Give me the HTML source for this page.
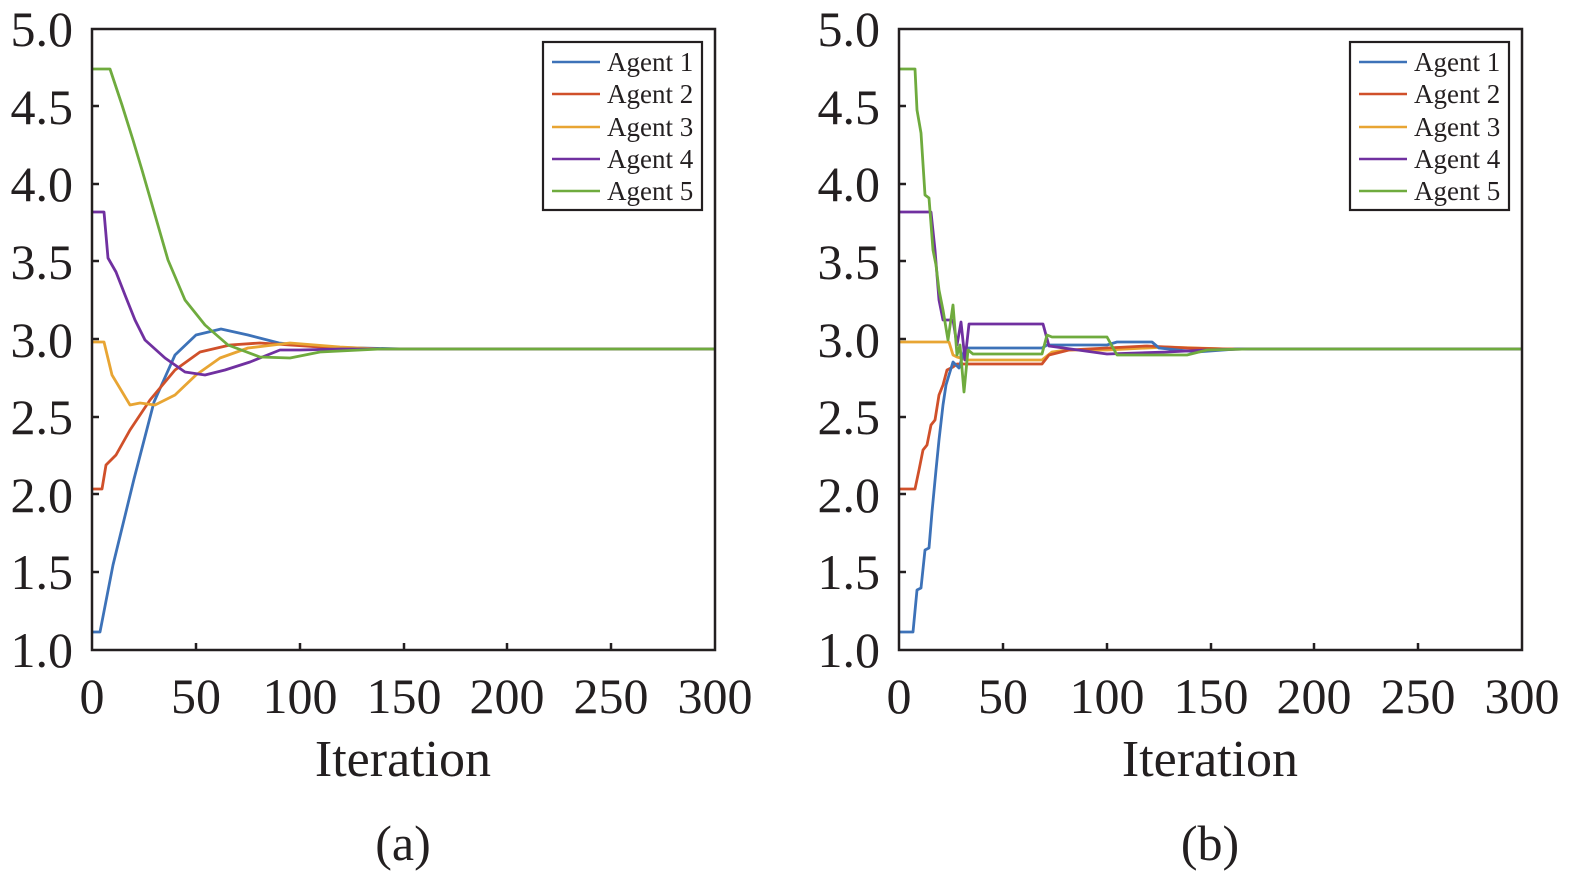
<!DOCTYPE html>
<html><head><meta charset="utf-8"><style>
html,body{margin:0;padding:0;background:#fff}
svg{display:block}
text{font-family:"Liberation Serif",serif;fill:#231f20}
</style></head><body>
<svg width="1575" height="878" viewBox="0 0 1575 878" xmlns="http://www.w3.org/2000/svg">
<defs>
<g id="yl" font-size="50" text-anchor="end">
<text x="73" y="46">5.0</text><text x="73" y="124">4.5</text><text x="73" y="201">4.0</text>
<text x="73" y="279">3.5</text><text x="73" y="357">3.0</text><text x="73" y="434">2.5</text>
<text x="73" y="512">2.0</text><text x="73" y="589">1.5</text><text x="73" y="667">1.0</text>
</g>
</defs>

<!-- Plot (a) -->
<g>
<use href="#yl"/>
<g font-size="50" text-anchor="middle">
<text x="92" y="713">0</text><text x="196" y="713">50</text><text x="300" y="713">100</text>
<text x="404" y="713">150</text><text x="507" y="713">200</text><text x="611" y="713">250</text><text x="715" y="713">300</text>
</g>
<text x="403" y="776" font-size="52" text-anchor="middle">Iteration</text>
<text x="403" y="860" font-size="50" text-anchor="middle">(a)</text>
<g stroke="#231f20" stroke-width="2.5">
<line x1="92" y1="106" x2="99" y2="106"/><line x1="92" y1="184" x2="99" y2="184"/><line x1="92" y1="261" x2="99" y2="261"/>
<line x1="92" y1="339" x2="99" y2="339"/><line x1="92" y1="417" x2="99" y2="417"/><line x1="92" y1="494" x2="99" y2="494"/>
<line x1="92" y1="572" x2="99" y2="572"/>
<line x1="196" y1="650" x2="196" y2="643"/><line x1="300" y1="650" x2="300" y2="643"/><line x1="404" y1="650" x2="404" y2="643"/>
<line x1="507" y1="650" x2="507" y2="643"/><line x1="611" y1="650" x2="611" y2="643"/>
</g>
<g fill="none" stroke-width="2.8" stroke-linejoin="round">
<polyline stroke="#3d72b8" points="92,632 100,632 113,565 134,479 154,402 175,355 196,335 221,329 248,335 279,343 320,347 404,349 715,349"/>
<polyline stroke="#d0502a" points="92,489 102,489 106,465 116,455 130,430 150,400 175,370 200,352 230,345 260,343 290,345 320,347 360,349 715,349"/>
<polyline stroke="#e8a533" points="92,342 104,342 112,375 124,395 130,405 140,403 155,405 175,395 196,375 220,358 248,348 290,343 340,347 380,349 715,349"/>
<polyline stroke="#7030a0" points="92,212 104,212 108,258 116,272 125,295 135,320 145,340 165,358 185,372 205,375 225,370 250,362 280,350 300,350 340,349 715,349"/>
<polyline stroke="#6fab3e" points="92,69 110,69 122,105 133,140 142,170 155,215 168,260 185,300 205,325 228,345 260,357 290,358 320,352 380,349 715,349"/>
</g>
<rect x="92" y="29" width="623" height="621" fill="none" stroke="#231f20" stroke-width="2.5"/>
<rect x="543" y="42" width="159" height="168" fill="#fff" stroke="#231f20" stroke-width="2.2"/>
<g stroke-width="2.6">
<line x1="552" y1="62" x2="600" y2="62" stroke="#3d72b8"/><line x1="552" y1="94" x2="600" y2="94" stroke="#d0502a"/>
<line x1="552" y1="127" x2="600" y2="127" stroke="#e8a533"/><line x1="552" y1="159" x2="600" y2="159" stroke="#7030a0"/>
<line x1="552" y1="191" x2="600" y2="191" stroke="#6fab3e"/>
</g>
<g font-size="27"><text x="607" y="71">Agent 1</text><text x="607" y="103">Agent 2</text><text x="607" y="136">Agent 3</text><text x="607" y="168">Agent 4</text><text x="607" y="200">Agent 5</text></g>
</g>

<!-- Plot (b) -->
<g transform="translate(807,0)">
<use href="#yl"/>
<g font-size="50" text-anchor="middle">
<text x="92" y="713">0</text><text x="196" y="713">50</text><text x="300" y="713">100</text>
<text x="404" y="713">150</text><text x="507" y="713">200</text><text x="611" y="713">250</text><text x="715" y="713">300</text>
</g>
<text x="403" y="776" font-size="52" text-anchor="middle">Iteration</text>
<text x="403" y="860" font-size="50" text-anchor="middle">(b)</text>
<g stroke="#231f20" stroke-width="2.5">
<line x1="92" y1="106" x2="99" y2="106"/><line x1="92" y1="184" x2="99" y2="184"/><line x1="92" y1="261" x2="99" y2="261"/>
<line x1="92" y1="339" x2="99" y2="339"/><line x1="92" y1="417" x2="99" y2="417"/><line x1="92" y1="494" x2="99" y2="494"/>
<line x1="92" y1="572" x2="99" y2="572"/>
<line x1="196" y1="650" x2="196" y2="643"/><line x1="300" y1="650" x2="300" y2="643"/><line x1="404" y1="650" x2="404" y2="643"/>
<line x1="507" y1="650" x2="507" y2="643"/><line x1="611" y1="650" x2="611" y2="643"/>
</g>
<g fill="none" stroke-width="2.8" stroke-linejoin="round">
<polyline stroke="#e8a533" points="92,342 142,342 146,355 150,357 160,360 235,360 245,352 260,350 300,350 360,347 420,349 715,349"/>
<polyline stroke="#d0502a" points="92,489 108,489 112,470 116,450 120,445 124,425 128,420 132,395 136,385 140,370 146,367 150,364 158,364 235,364 242,355 262,350 300,348 340,346 380,348 420,349 715,349"/>
<polyline stroke="#3d72b8" points="92,632 106,632 110,590 114,588 118,550 122,548 125,512 129,470 132,440 136,405 139,385 142,375 146,362 152,368 158,348 235,348 240,345 300,345 310,342 345,342 352,348 390,352 430,349 715,349"/>
<polyline stroke="#7030a0" points="92,212 124,212 128,250 132,300 136,320 146,320 150,345 154,322 158,360 162,324 236,324 242,346 300,354 360,352 400,350 440,349 715,349"/>
<polyline stroke="#6fab3e" points="92,69 108,69 110,110 114,133 118,195 122,198 126,250 129,265 132,290 136,310 141,340 146,305 150,355 153,345 157,392 161,350 166,354 235,354 240,335 245,337 300,337 310,355 345,355 380,355 400,350 440,349 715,349"/>
</g>
<rect x="92" y="29" width="623" height="621" fill="none" stroke="#231f20" stroke-width="2.5"/>
<rect x="543" y="42" width="159" height="168" fill="#fff" stroke="#231f20" stroke-width="2.2"/>
<g stroke-width="2.6">
<line x1="552" y1="62" x2="600" y2="62" stroke="#3d72b8"/><line x1="552" y1="94" x2="600" y2="94" stroke="#d0502a"/>
<line x1="552" y1="127" x2="600" y2="127" stroke="#e8a533"/><line x1="552" y1="159" x2="600" y2="159" stroke="#7030a0"/>
<line x1="552" y1="191" x2="600" y2="191" stroke="#6fab3e"/>
</g>
<g font-size="27"><text x="607" y="71">Agent 1</text><text x="607" y="103">Agent 2</text><text x="607" y="136">Agent 3</text><text x="607" y="168">Agent 4</text><text x="607" y="200">Agent 5</text></g>
</g>
</svg>
</body></html>
